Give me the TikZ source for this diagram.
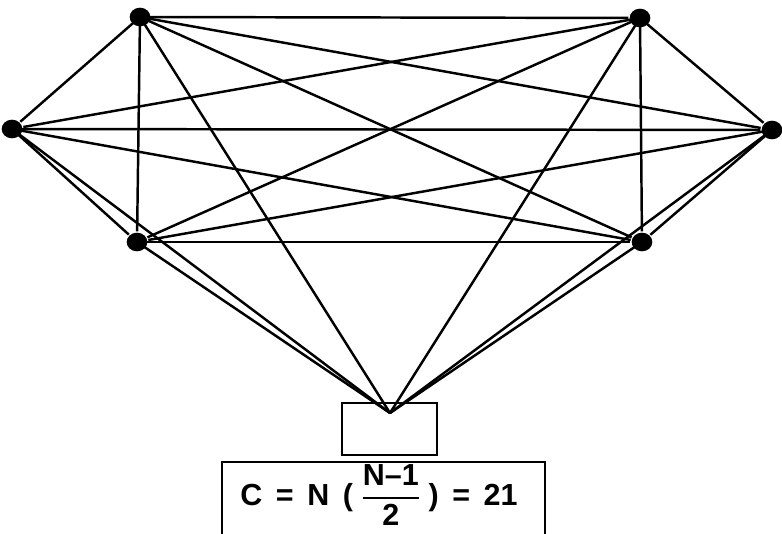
\documentclass[tikz,border=0pt]{standalone}
\usepackage{amsmath}
\usepackage{fontspec}
\setsansfont{Liberation Sans}
\usetikzlibrary{positioning,shapes.geometric}

\begin{document}
\begin{tikzpicture}[x=0.03cm,y=-0.03cm,line width=2.1pt,
  station/.style={ellipse,fill,inner sep=0pt,minimum width=0.62cm,minimum height=0.56cm},
  hubbox/.style={draw,minimum width=2.85cm,minimum height=1.56cm,inner sep=0pt}]
  \useasboundingbox (0,0) rectangle (782,534);
  % The six stations.
  \node[station] (tl) at (140,17) {};
  \node[station] (tr) at (640,18) {};
  \node[station] (ml) at (12,129) {};
  \node[station] (mr) at (772,130) {};
  \node[station] (bl) at (137,242) {};
  \node[station] (br) at (642,242) {};
  % The seventh one, a box.
  \node[hubbox] (hub) at (389.5,429) {};
  \coordinate (apex) at (390,413);
  % Every pair is joined.
  \foreach \a/\b in {tl/tr,tl/ml,tl/mr,tl/bl,tl/br,tl/apex,
                     tr/ml,tr/mr,tr/bl,tr/br,tr/apex,
                     ml/mr,ml/bl,ml/br,ml/apex,
                     mr/bl,mr/br,mr/apex,
                     bl/br,bl/apex,br/apex}
    \draw (\a.center) -- (\b);
  % The count.
  \draw (222,540) -- (222,462) -- (545,462) -- (545,540);
  \node (count) at (379,495) {\fontsize{26}{30}\selectfont\sffamily\bfseries
    C\ \,=\ \,N\ \,( $\dfrac{\mbox{N--1}}{\mbox{2}}$ )\ \,=\ \,21};
\end{tikzpicture}
\end{document}
